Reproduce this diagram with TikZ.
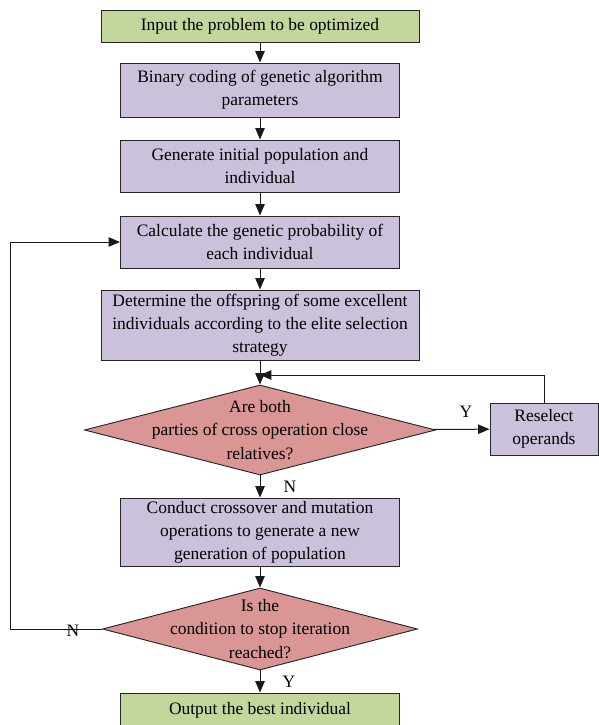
\documentclass[tikz,border=0pt]{standalone}
\usepackage{fontspec}
\setmainfont{Liberation Serif}
\usetikzlibrary{arrows.meta, shapes, positioning}
\definecolor{boxgreen}{HTML}{C3D69B}
\definecolor{boxpurple}{HTML}{CCC1DA}
\definecolor{boxred}{HTML}{D99694}

\begin{document}
\begin{tikzpicture}[x=0.75pt, y=-0.75pt,
  every node/.style={font=\fontsize{13.1}{17.3}\selectfont},
  basebox/.style={draw=black!85, line width=0.7pt, align=center, inner sep=2pt},
  greenbox/.style={basebox, fill=boxgreen, minimum height=24pt},
  procbox/.style={basebox, fill=boxpurple, minimum width=209.25pt},
  decision/.style={diamond, draw=black!85, line width=0.7pt, fill=boxred, inner sep=0pt},
  arr/.style={-{Triangle[length=8.5pt, width=7pt]}, line width=0.75pt, black!90}]
  \useasboundingbox (0,0) rectangle (599,725);

  % main column
  \node[greenbox, minimum width=238.5pt] (in) at (260,26) {Input the problem to be optimized};
  \node[procbox, minimum height=40.5pt] (bin) at (260,90) {Binary coding of genetic algorithm\\parameters};
  \node[procbox, minimum height=39pt] (gen) at (260,166) {Generate initial population and\\individual};
  \node[procbox, minimum height=39pt] (calc) at (260,242) {Calculate the genetic probability of\\each individual};
  \node[procbox, minimum width=238.5pt, minimum height=52.5pt] (det) at (260,325)
    {Determine the offspring of some excellent\\individuals according to the elite selection\\strategy};
  \node[decision, minimum width=263.25pt, minimum height=67.5pt,
    label={[align=center]center:Are both\\parties of cross operation close\\relatives?}] (close) at (260,430) {};
  \node[procbox, minimum width=81pt, minimum height=39pt] (resel) at (544,429) {Reselect\\operands};
  \node[procbox, minimum height=51pt] (cross) at (260,532)
    {Conduct crossover and mutation\\operations to generate a new\\generation of population};
  \node[decision, minimum width=236.25pt, minimum height=61.5pt,
    label={[align=center]center:Is the\\condition to stop iteration\\reached?}] (stop) at (260,629) {};
  \node[greenbox, minimum width=209.25pt, minimum height=25.5pt] (out) at (260,710) {Output the best individual};

  % connectors
  \draw[arr] (in) -- (bin);
  \draw[arr] (bin) -- (gen);
  \draw[arr] (gen) -- (calc);
  \draw[arr] (calc) -- (det);
  \draw[arr] (det) -- (close);
  \draw[arr] (close) -- (resel);
  \coordinate (join) at (260,375);
  \draw[arr] (resel.north) |- (join);
  \draw[arr] (close) -- (cross);
  \draw[arr] (cross) -- (stop);
  \draw[arr] (stop) -- (out);
  \coordinate (loop) at (10,629);
  \draw[arr] (stop.west) -- (loop) |- (calc.west);

  % branch labels
  \node (yclose) at (466,412) {Y};
  \node (nclose) at (290,487) {N};
  \node (nstop) at (73,631) {N};
  \node (ystop) at (289,682) {Y};
\end{tikzpicture}
\end{document}
